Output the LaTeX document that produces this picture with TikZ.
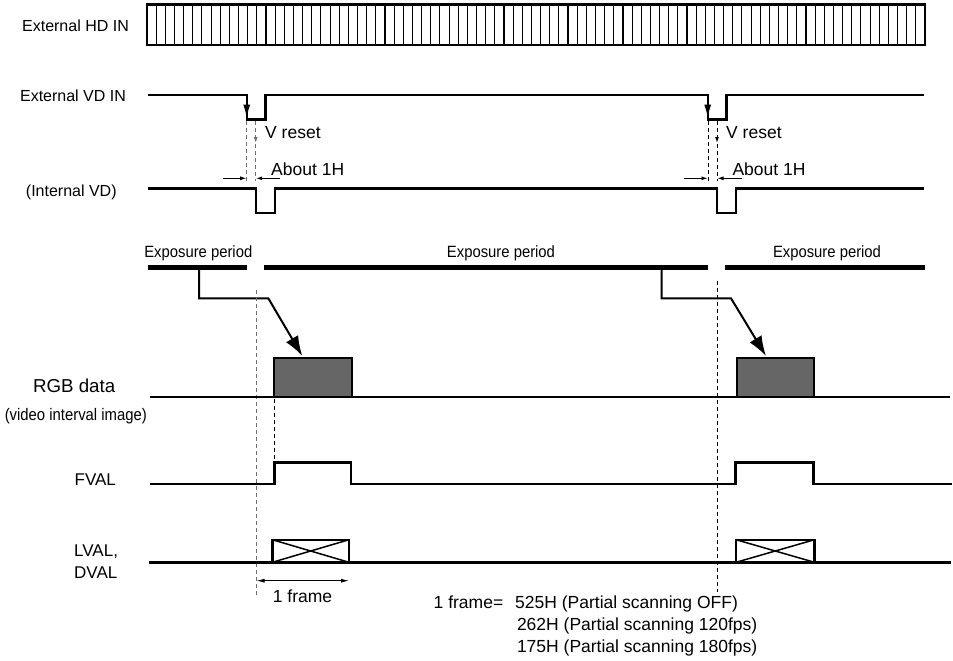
\documentclass[tikz,border=0pt]{standalone}
\usepackage{fontspec}
\setmainfont{Liberation Sans}
\usetikzlibrary{arrows.meta}
\definecolor{rgbgray}{RGB}{102,102,102}
\definecolor{dashgray}{RGB}{110,110,110}
\begin{document}
\begin{tikzpicture}[x=1pt,y=-1pt,
  sig/.style={line width=2.4pt, line join=miter},
  hair/.style={line width=0.9pt},
  dsh/.style={line width=1pt, dash pattern=on 4pt off 3pt},
  lbl/.style={inner sep=0pt, anchor=base, font=\fontsize{16}{19}\selectfont},
  lblw/.style={lbl, anchor=base west},
  big/.style={font=\fontsize{17.5}{21}\selectfont},
  smalltip/.style={-{Latex[length=6pt,width=4pt]}},
]
\useasboundingbox (0,0) rectangle (953,661);

% ---------- External HD IN ----------
\node[lbl] (hdl) at (75.5,31.7) {External HD IN};
\draw[line width=2.6pt] (147,4.5) rectangle (925,45);
\foreach \k in {1,...,84}
  \draw[line width=1.1pt] ({147+\k*9.1529},4.5) -- ({147+\k*9.1529},45);

% ---------- External VD IN ----------
\node[lbl] (vdl) at (73,101.7) {External VD IN};
\draw[sig] (148,95) -- (246.7,95) -- (246.7,119.5) -- (265.5,119.5) -- (265.5,95)
  -- (707.7,95) -- (707.7,119.5) -- (726.3,119.5) -- (726.3,95) -- (924,95);
\draw[line width=1pt,-{Latex[length=13pt,width=7pt]}] (246.7,97) -- (246.7,117.5);
\draw[line width=1pt,-{Latex[length=13pt,width=7pt]}] (707.7,97) -- (707.7,117.5);

% V reset / About 1H (left)
\draw[dsh,dashgray] (246.7,121) -- (246.7,181);
\draw[dsh,dashgray,-{Latex[length=6pt,width=4pt]}] (255.7,121) -- (255.7,143);
\draw[dsh,dashgray] (255.7,144) -- (255.7,181);
\node[lblw,big] (vr1) at (265,138.3) {V reset};
\draw[hair,smalltip] (222.7,178.3) -- (246.2,178.3);
\draw[hair,smalltip] (280,178.3) -- (256.2,178.3);
\node[lblw,big] (ab1) at (271,175) {About 1H};

% V reset / About 1H (right)
\draw[dsh] (708,121) -- (708,181);
\draw[dsh,-{Latex[length=6pt,width=4pt]}] (717,121) -- (717,143);
\draw[dsh] (717,144) -- (717,181);
\node[lblw,big] (vr2) at (726,138.3) {V reset};
\draw[hair,smalltip] (684.3,178.3) -- (707.5,178.3);
\draw[hair,smalltip] (741.7,178.3) -- (717.5,178.3);
\node[lblw,big] (ab2) at (732.3,175) {About 1H};

% ---------- Internal VD ----------
\node[lbl] (ivl) at (71.3,196.7) {(Internal VD)};
\draw[sig] (148,188.5) -- (255.7,188.5) -- (255.7,213) -- (274.7,213) -- (274.7,188.5)
  -- (716.7,188.5) -- (716.7,213) -- (735.7,213) -- (735.7,188.5) -- (924,188.5);

% ---------- Exposure periods ----------
\draw[line width=5pt] (147.7,267.3) -- (247.3,267.3);
\draw[line width=5pt] (264.3,267.3) -- (708.3,267.3);
\draw[line width=5pt] (725,267.3) -- (925,267.3);
\node[lbl,font=\fontsize{16.3}{19}\selectfont] (ex1) at (198.3,257.7) {\scalebox{0.91}[1]{Exposure period}};
\node[lbl,font=\fontsize{16.3}{19}\selectfont] (ex2) at (501,257.7) {\scalebox{0.91}[1]{Exposure period}};
\node[lbl,font=\fontsize{16.3}{19}\selectfont] (ex3) at (827,257.7) {\scalebox{0.91}[1]{Exposure period}};

\draw[line width=2pt,-{Latex[length=20pt,width=14pt]}] (199,267.3) -- (199,298.3) -- (268.3,298.3) -- (302.3,356);
\draw[line width=2pt,-{Latex[length=20pt,width=14pt]}] (661.7,267.3) -- (661.7,298.3) -- (731,298.3) -- (766,356);

% long dashed lines
\draw[dsh,dashgray] (256,290) -- (256,595);
\draw[dsh] (717,281) -- (717,592);

% ---------- RGB data ----------
\node[lbl,font=\fontsize{18.7}{22}\selectfont] (rgbl) at (74.2,392.7) {RGB data};
\node[lbl,font=\fontsize{16.7}{19}\selectfont] (rgbs) at (75.8,420) {\scalebox{0.89}[1]{(video interval image)}};
\draw[line width=2pt, fill=rgbgray] (274.3,396.7) -- (274.3,358.3) -- (351.7,358.3) -- (351.7,396.7);
\draw[line width=2pt, fill=rgbgray] (736.7,396.7) -- (736.7,358.3) -- (814.3,358.3) -- (814.3,396.7);
\draw[sig] (150,396.7) -- (950,396.7);
\draw[dsh] (274.3,399) -- (274.3,462);

% ---------- FVAL ----------
\node[lbl,font=\fontsize{17}{20}\selectfont] (fvl) at (95.3,485.7) {FVAL};
\draw[sig] (150,483.7) -- (274.3,483.7) -- (274.3,462.3) -- (350.7,462.3) -- (350.7,483.7)
  -- (735.5,483.7) -- (735.5,462.3) -- (813.3,462.3) -- (813.3,483.7) -- (952,483.7);

% ---------- LVAL, DVAL ----------
\node[lblw,font=\fontsize{17}{20}\selectfont] (lvl) at (74,556) {LVAL,};
\node[lblw,font=\fontsize{17}{20}\selectfont] (dvl) at (74,578.3) {DVAL};
\draw[sig] (149,562.3) -- (951,562.3);
\draw[line width=2.4pt] (272.3,539.7) rectangle (349,562.3);
\draw[line width=1.5pt] (272.3,539.7) -- (349,562.3) (272.3,562.3) -- (349,539.7);
\draw[line width=2.4pt] (736,539.7) rectangle (814.5,562.3);
\draw[line width=1.5pt] (736,539.7) -- (814.5,562.3) (736,562.3) -- (814.5,539.7);

% 1 frame arrow
\draw[hair,{Latex[length=8pt,width=4pt]}-{Latex[length=8pt,width=4pt]}] (256.5,580.7) -- (349,580.7);
\node[lblw,big] (fr) at (272.7,602.7) {1 frame};

% bottom note
\node[lblw,big] (n0) at (433.5,608.3) {1 frame=};
\node[lblw,big] (n1) at (515,608.3) {525H (Partial scanning OFF)};
\node[lblw,big] (n2) at (516.8,630.5) {262H (Partial scanning 120fps)};
\node[lblw,big] (n3) at (516.8,652.5) {175H (Partial scanning 180fps)};
\end{tikzpicture}
\end{document}
